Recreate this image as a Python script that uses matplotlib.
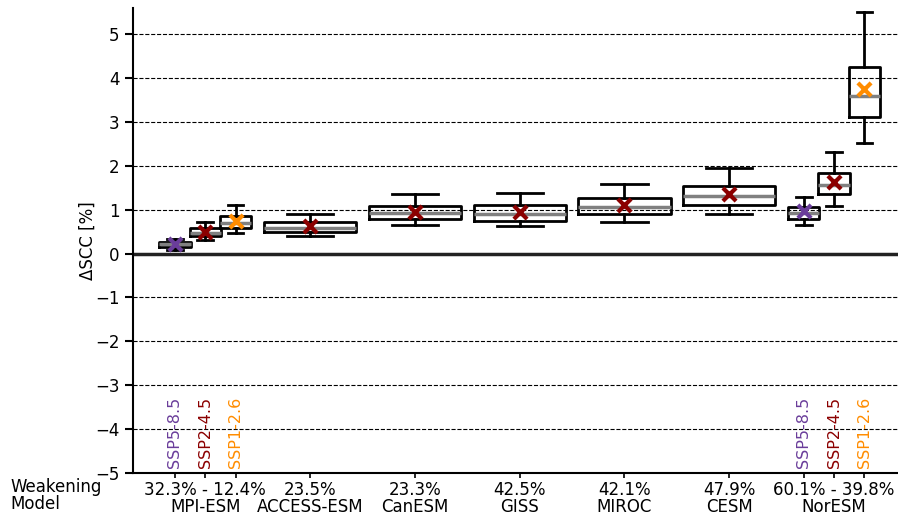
import matplotlib
matplotlib.use("Agg")
import matplotlib.pyplot as plt

# models and AMOC weakening labels
models = ["MPI-ESM", "ACCESS-ESM", "CanESM", "GISS", "MIROC", "CESM", "NorESM"]
weakening = ["32.3% - 12.4%", "23.5%", "23.3%", "42.5%", "42.1%", "47.9%", "60.1% - 39.8%"]

# one entry per box: model index and scenario
box_model = [0, 0, 0, 1, 2, 3, 4, 5, 6, 6, 6]
box_scen = ["SSP5-8.5", "SSP2-4.5", "SSP1-2.6", "SSP2-4.5", "SSP2-4.5", "SSP2-4.5",
            "SSP2-4.5", "SSP2-4.5", "SSP5-8.5", "SSP2-4.5", "SSP1-2.6"]

# box statistics (Delta SCC in %)
whislo = [0.08, 0.31, 0.47, 0.40, 0.65, 0.62, 0.73, 0.91, 0.64, 1.09, 2.52]
q1 = [0.14, 0.39, 0.59, 0.49, 0.78, 0.75, 0.91, 1.11, 0.78, 1.35, 3.10]
med = [0.21, 0.47, 0.70, 0.59, 0.92, 0.91, 1.06, 1.31, 0.92, 1.57, 3.59]
q3 = [0.27, 0.58, 0.85, 0.72, 1.08, 1.10, 1.26, 1.55, 1.07, 1.84, 4.25]
whishi = [0.34, 0.72, 1.10, 0.91, 1.35, 1.39, 1.59, 1.95, 1.29, 2.31, 5.50]
means = [0.21, 0.50, 0.75, 0.62, 0.94, 0.94, 1.10, 1.36, 0.96, 1.63, 3.76]

scen_order = ["SSP5-8.5", "SSP2-4.5", "SSP1-2.6"]
scen_colors = {"SSP5-8.5": "#6a3d9a", "SSP2-4.5": "darkred", "SSP1-2.6": "darkorange"}

# positions: models with several scenarios get side-by-side narrow boxes
positions, widths = [], []
for i, m in enumerate(box_model):
    n = box_model.count(m)
    if n == 1:
        positions.append(m)
        widths.append(0.88)
    else:
        k = scen_order.index(box_scen[i])
        positions.append(m + (k - 1) * 0.29)
        widths.append(0.3)

stats = [
    dict(med=med[i], q1=q1[i], q3=q3[i], whislo=whislo[i], whishi=whishi[i], fliers=[])
    for i in range(len(med))
]

fig = plt.figure(figsize=(8.98, 5.17), dpi=100)
ax = fig.add_axes([0.148, 0.085, 0.852, 0.9])

ax.set_axisbelow(True)
ax.yaxis.grid(True, linestyle="--", color="k", linewidth=0.8)

ax.bxp(
    stats,
    positions=positions,
    widths=widths,
    showfliers=False,
    boxprops=dict(color="k", linewidth=2),
    whiskerprops=dict(color="k", linewidth=2),
    capprops=dict(color="k", linewidth=2),
    medianprops=dict(color="gray", linewidth=2.5),
    manage_ticks=False,
)

for i in range(len(means)):
    ax.scatter(positions[i], means[i], marker="x", s=90, linewidths=3,
               color=scen_colors[box_scen[i]], zorder=5)

ax.axhline(0, color="#222222", linewidth=2.5, zorder=1)

# scenario labels under the multi-scenario models
for i in range(len(box_model)):
    if box_model.count(box_model[i]) > 1:
        ax.text(positions[i], -4.88, box_scen[i], rotation=90, ha="center", va="bottom",
                fontsize=11.5, color=scen_colors[box_scen[i]])

ax.set_xlim(-0.69, 6.61)
ax.set_ylim(-5, 5.6)
ax.set_yticks(range(-5, 6))
ax.set_xticks(range(len(models)))
ax.set_xticklabels([f"{w}\n{m}" for w, m in zip(weakening, models)], linespacing=0.95)
ax.set_xticks(positions, minor=True)
ax.tick_params(axis="x", which="both", length=3.5, width=1.2, pad=2)
ax.tick_params(axis="y", length=6, width=1.5)
ax.tick_params(labelsize=12)
ax.set_ylabel("ΔSCC [%]", fontsize=12)
ax.yaxis.set_label_coords(-0.047, 0.5)

ax.spines["top"].set_visible(False)
ax.spines["right"].set_visible(False)
ax.spines["left"].set_linewidth(1.5)
ax.spines["bottom"].set_linewidth(1.5)

fig.text(10 / 898, 1 - 478 / 517, "Weakening\nModel", ha="left", va="top",
         fontsize=12, linespacing=0.95)

fig.savefig("out.png", dpi=100)
